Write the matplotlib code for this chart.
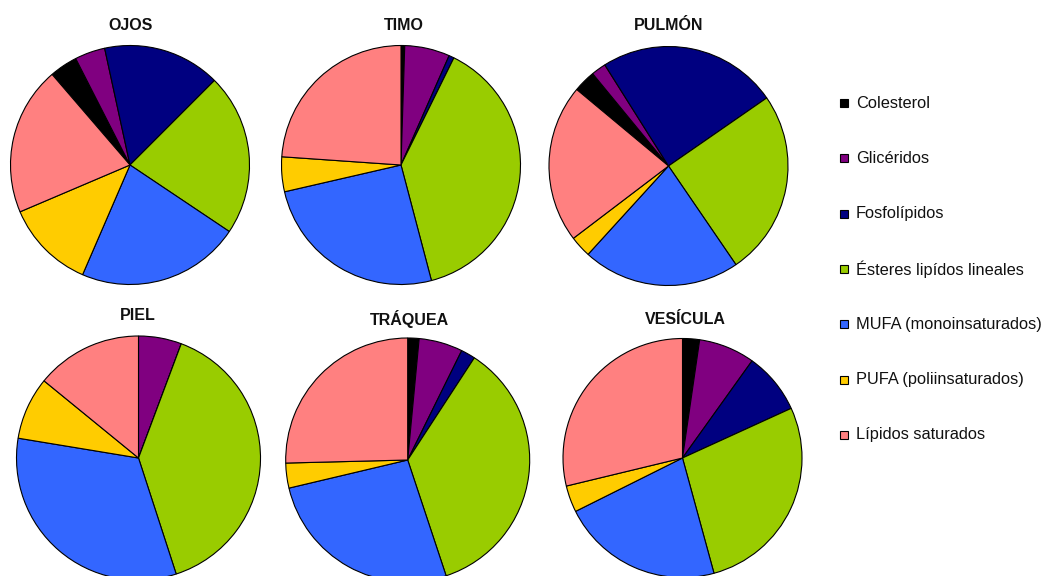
import matplotlib
matplotlib.use("Agg")
import matplotlib.pyplot as plt
from matplotlib.patches import Rectangle

plt.rcParams['font.family'] = ['Liberation Sans', 'DejaVu Sans']

categories = ["Colesterol", "Glicéridos", "Fosfolípidos", "Ésteres lipídos lineales",
              "MUFA (monoinsaturados)", "PUFA (poliinsaturados)", "Lípidos saturados"]
colors = ["#000000", "#800080", "#000080", "#99CC00", "#3366FF", "#FFCC00", "#FF8080"]

titles = ["OJOS", "TIMO", "PULMÓN", "PIEL", "TRÁQUEA", "VESÍCULA"]
ojos = [3.8, 4.1, 15.9, 21.9, 22.1, 12.1, 20.1]
timo = [0.5, 6.1, 0.7, 38.6, 25.5, 4.7, 23.9]
pulmon = [3.0, 2.0, 24.3, 25.1, 21.3, 2.9, 21.4]
piel = [0.0, 5.7, 0.0, 39.3, 32.6, 8.3, 14.1]
traquea = [1.5, 5.8, 1.9, 35.7, 26.4, 3.3, 25.4]
vesicula = [2.3, 7.6, 8.3, 27.6, 21.9, 3.6, 28.8]
series = [ojos, timo, pulmon, piel, traquea, vesicula]
start_angles = [130.7, 90, 140.2, 90, 90, 90]

W, H = 1048, 576
# layout (pixel coords, y downward)
centers = [(130, 165), (401, 165), (668.5, 166), (138.5, 458), (407.7, 460), (682.5, 458)]
radii = [119.5, 119.5, 119.5, 122, 122, 119.5]
title_pos = [(131, 26), (404, 26), (669, 26), (138, 316), (409, 319), (685, 319)]

fig = plt.figure(figsize=(W / 100, H / 100), dpi=100)
ax = fig.add_axes([0, 0, 1, 1])
ax.set_xlim(0, W)
ax.set_ylim(0, H)
ax.axis('off')

for vals, (cx, cy), r, sa, t, (tx, ty) in zip(series, centers, radii, start_angles, titles, title_pos):
    ax.pie(vals, colors=colors, startangle=sa, counterclock=False,
           center=(cx, H - cy), radius=r, normalize=True,
           wedgeprops=dict(edgecolor='black', linewidth=0.8))
    ax.text(tx, H - ty, t, ha='center', va='center', fontsize=11.5, fontweight='bold',
            color='#111111')

ax.set_xlim(0, W)
ax.set_ylim(0, H)
ax.set_aspect('equal')

# legend
leg_y0, leg_dy = 103, 55.3
for i, (lab, col) in enumerate(zip(categories, colors)):
    y = H - (leg_y0 + i * leg_dy)
    ax.add_patch(Rectangle((840, y - 4), 8, 8, facecolor=col, edgecolor='black', linewidth=0.8))
    ax.text(856, y, lab, ha='left', va='center', fontsize=11.8, color='#111111')

fig.savefig("out.png", dpi=100)
